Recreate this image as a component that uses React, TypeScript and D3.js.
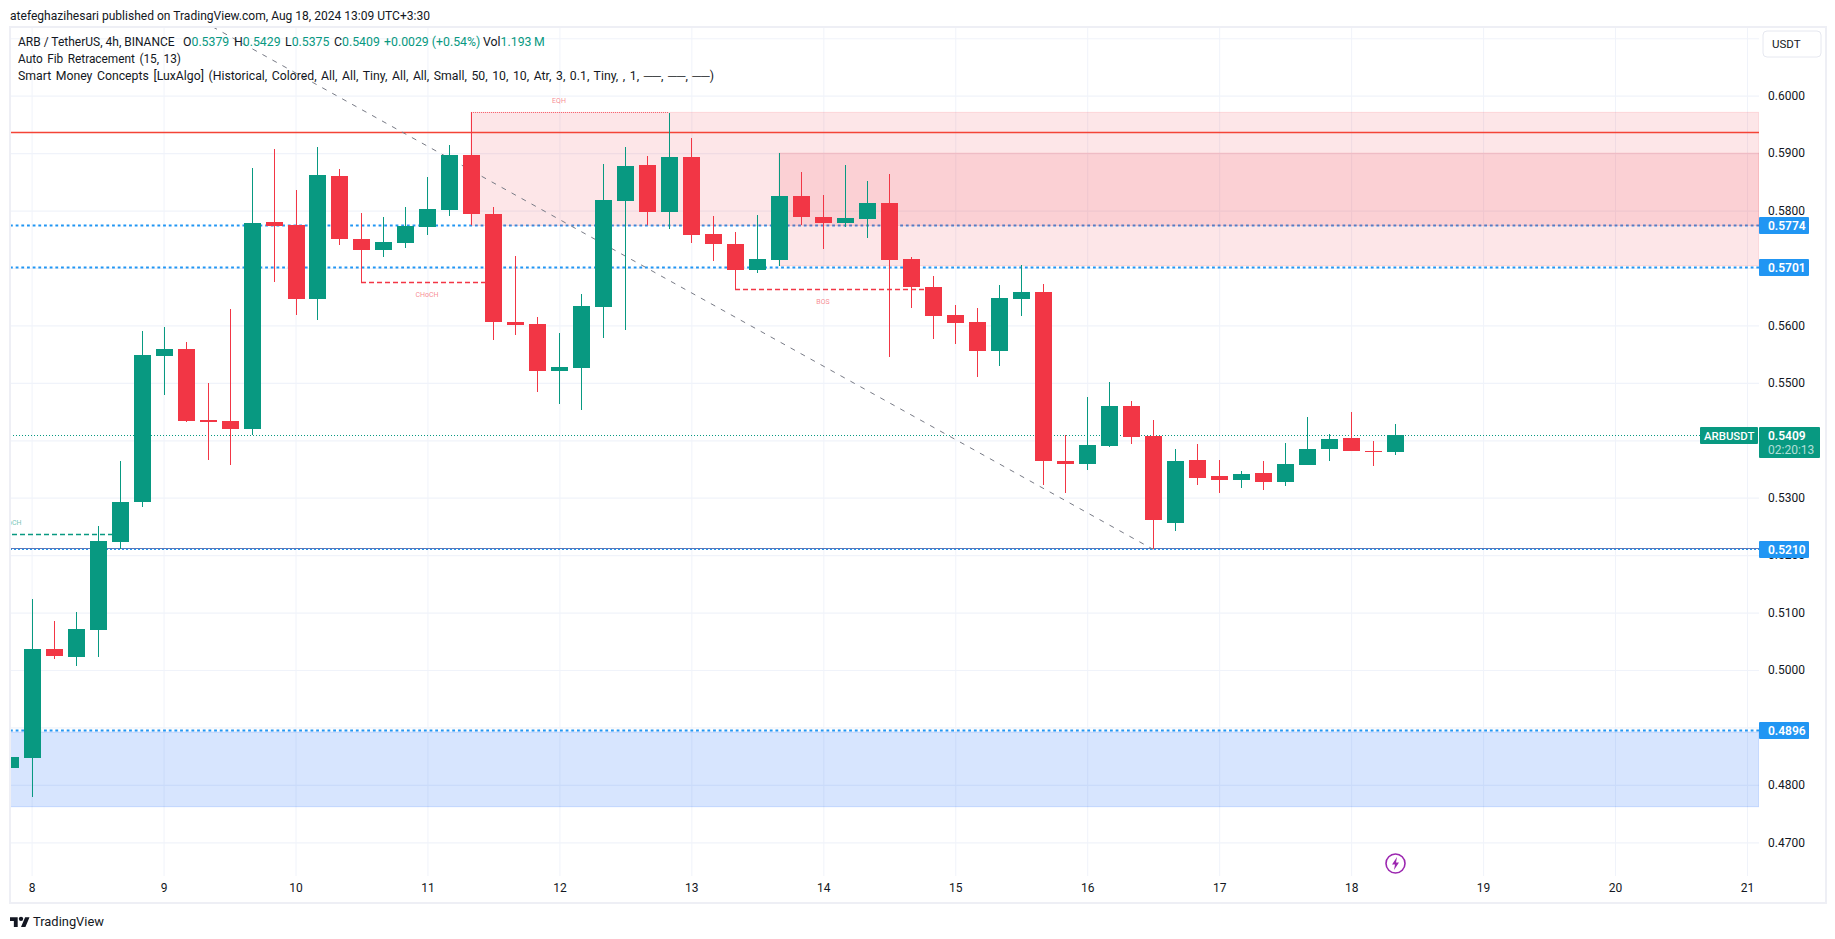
import React, { useEffect, useRef } from 'react';
import * as d3 from 'd3';

const WIDTH = 1835;
const HEIGHT = 939;
const FONT = 'Roboto, sans-serif';
const UP = '#089981';
const DOWN = '#f23645';
const BLUE = '#2196f3';
const TEXT = '#131722';
const GRID = '#f0f3fa';
const FRAME = '#eeeff5';

// 4h candles, the first one opens Aug 7 20:00
const firstCandle = Date.UTC(2024, 7, 7, 20);
const fourHours = 4 * 3600 * 1000;

const opens = [
  0.4829, 0.4847, 0.5037, 0.5023, 0.507, 0.5223, 0.5293, 0.5547, 0.5559, 0.5435, 0.5434, 0.542, 0.578,
  0.5775, 0.5646, 0.586, 0.575, 0.5731, 0.5744, 0.5771, 0.5801, 0.5897, 0.5794, 0.5606, 0.5603, 0.5521,
  0.5526, 0.5632, 0.5817, 0.5879, 0.5797, 0.5893, 0.5759, 0.5742, 0.5697, 0.5714, 0.5825, 0.5789, 0.5778,
  0.5785, 0.5813, 0.5716, 0.5667, 0.5618, 0.5606, 0.5555, 0.5646, 0.5658, 0.5364, 0.5359, 0.539, 0.546,
  0.5407, 0.5256, 0.5366, 0.5338, 0.5331, 0.5343, 0.5327, 0.5357, 0.5385, 0.5404, 0.5381, 0.5379,
];
const highs = [
  0.4849, 0.5124, 0.5085, 0.5101, 0.5251, 0.5364, 0.559, 0.5597, 0.5571, 0.55, 0.5629, 0.5874, 0.5907,
  0.5836, 0.5911, 0.5872, 0.5796, 0.5789, 0.5806, 0.5858, 0.5914, 0.5971, 0.5806, 0.5721, 0.5615, 0.5587,
  0.5655, 0.5881, 0.5911, 0.5895, 0.597, 0.5926, 0.5791, 0.5763, 0.5792, 0.59, 0.5867, 0.5827, 0.5879,
  0.5851, 0.5864, 0.5719, 0.5686, 0.5636, 0.563, 0.567, 0.5705, 0.5672, 0.5409, 0.5475, 0.5501, 0.5469,
  0.5435, 0.5385, 0.5394, 0.5366, 0.5347, 0.5364, 0.5395, 0.5441, 0.5411, 0.5449, 0.5399, 0.5429,
];
const lows = [
  0.4829, 0.4779, 0.5019, 0.5007, 0.5023, 0.5211, 0.5284, 0.5479, 0.5432, 0.5366, 0.5357, 0.5409, 0.5676,
  0.5618, 0.5609, 0.574, 0.5676, 0.5719, 0.5735, 0.5757, 0.5791, 0.5775, 0.5575, 0.5583, 0.5484, 0.5463,
  0.5453, 0.5578, 0.5592, 0.5775, 0.5768, 0.5744, 0.5712, 0.5663, 0.5691, 0.5704, 0.5775, 0.5733, 0.5771,
  0.5752, 0.5545, 0.563, 0.5576, 0.5568, 0.551, 0.5529, 0.5616, 0.5322, 0.5308, 0.5348, 0.5388, 0.5394,
  0.521, 0.5242, 0.5322, 0.5308, 0.5317, 0.5313, 0.532, 0.5357, 0.5364, 0.5381, 0.5355, 0.5375,
];
const closes = [
  0.4849, 0.5037, 0.5024, 0.5071, 0.5225, 0.5293, 0.5548, 0.5559, 0.5434, 0.5432, 0.542, 0.5778, 0.5773,
  0.5646, 0.5862, 0.575, 0.5731, 0.5745, 0.5773, 0.5803, 0.5897, 0.5794, 0.5606, 0.5601, 0.5521, 0.5528,
  0.5634, 0.5818, 0.5878, 0.5797, 0.5893, 0.5757, 0.5742, 0.5697, 0.5716, 0.5825, 0.5789, 0.5778, 0.5787,
  0.5813, 0.5714, 0.5667, 0.5616, 0.5604, 0.5555, 0.5648, 0.5658, 0.5364, 0.5359, 0.5392, 0.546, 0.5406,
  0.5261, 0.5364, 0.5334, 0.5331, 0.5341, 0.5327, 0.5359, 0.5385, 0.5402, 0.5381, 0.538, 0.5409,
];

const dayTicks = [8, 9, 10, 11, 12, 13, 14, 15, 16, 17, 18, 19, 20, 21];
const priceTicks = [0.61, 0.6, 0.59, 0.58, 0.57, 0.56, 0.55, 0.54, 0.53, 0.52, 0.51, 0.5, 0.49, 0.48, 0.47];
const axisLabels = [0.6, 0.59, 0.58, 0.56, 0.55, 0.53, 0.52, 0.51, 0.5, 0.48, 0.47];
const priceBoxes = [0.5774, 0.5701, 0.521, 0.4896];
const thickDotted = [0.5774, 0.5701, 0.4896];
const lastPrice = 0.5409;
const redLevel = 0.5936;
const fibLow = 0.521;

const outerZone = [0.5971, 0.5774];
const innerZone = [0.59, 0.5704];
const blueZone = [0.4892, 0.4762];

const headerText = 'atefeghazihesari published on TradingView.com, Aug 18, 2024 13:09 UTC+3:30';
const legendLines = [
  { text: 'Auto Fib Retracement (15, 13)', width: 163 },
  {
    text: 'Smart Money Concepts [LuxAlgo] (Historical, Colored, All, All, Tiny, All, All, Small, 50, 10, 10, Atr, 3, 0.1, Tiny, , 1, ──, ──, ──)',
    width: 696,
  },
];

const candleTime = (i: number) => new Date(firstCandle + i * fourHours);

const App: React.FC = () => {
  const svgRef = useRef<SVGSVGElement | null>(null);

  useEffect(() => {
    if (!svgRef.current) return;
    document.body.style.margin = '0';

    const plot = { left: 10, right: 1759, top: 28, bottom: 876 };

    const x = d3
      .scaleUtc()
      .domain([new Date(Date.UTC(2024, 7, 8)), new Date(Date.UTC(2024, 7, 21))])
      .range([31.6, 1747]);
    const y = d3.scaleLinear().domain([0.6, 0.47]).range([95.7, 842.3]);
    const cx = (i: number) => Math.round(x(candleTime(i)));

    const svg = d3.select(svgRef.current);
    svg.selectAll('*').remove();
    svg
      .append('defs')
      .append('clipPath')
      .attr('id', 'plot-clip')
      .append('rect')
      .attr('x', plot.left)
      .attr('y', plot.top)
      .attr('width', plot.right - plot.left)
      .attr('height', plot.bottom - plot.top);

    svg.append('rect').attr('width', WIDTH).attr('height', HEIGHT).attr('fill', '#fff');

    // header above the frame
    svg
      .append('text')
      .attr('x', 10)
      .attr('y', 20)
      .attr('font-family', FONT)
      .attr('font-size', 13)
      .attr('textLength', 420)
      .attr('lengthAdjust', 'spacingAndGlyphs')
      .attr('fill', TEXT)
      .text(headerText);

    // grid, through the axes
    const dayDates = dayTicks.map((d) => new Date(Date.UTC(2024, 7, d)));
    const xGrid = svg
      .append('g')
      .attr('transform', `translate(0,${plot.bottom})`)
      .call(
        d3
          .axisBottom(x)
          .tickValues(dayDates)
          .tickSize(-(plot.bottom - plot.top))
          .tickFormat(() => ''),
      );
    xGrid.select('.domain').remove();
    xGrid.selectAll('line').attr('stroke', GRID);

    const yGrid = svg
      .append('g')
      .attr('transform', `translate(${plot.left},0)`)
      .call(
        d3
          .axisRight(y)
          .tickValues(priceTicks)
          .tickSize(plot.right - plot.left)
          .tickFormat(() => ''),
      );
    yGrid.select('.domain').remove();
    yGrid.selectAll('line').attr('stroke', GRID).attr('stroke-width', 1.2);

    const chart = svg.append('g').attr('clip-path', 'url(#plot-clip)');

    // horizontal levels
    const hLine = (price: number, color: string, width: number, dash?: string, x0 = plot.left, x1 = plot.right) =>
      chart
        .append('line')
        .attr('x1', x0)
        .attr('x2', x1)
        .attr('y1', Math.round(y(price)) + 0.5)
        .attr('y2', Math.round(y(price)) + 0.5)
        .attr('stroke', color)
        .attr('stroke-width', width)
        .attr('stroke-dasharray', dash ?? null);

    thickDotted.forEach((p) => hLine(p, BLUE, 2, '2.8 2.87'));

    // order block zones, array index = candle index
    const zoneStart = cx(21);
    const innerStart = cx(35);
    chart
      .append('rect')
      .attr('x', zoneStart)
      .attr('y', y(outerZone[0]))
      .attr('width', plot.right - zoneStart)
      .attr('height', y(outerZone[1]) - y(outerZone[0]))
      .attr('fill', DOWN)
      .attr('fill-opacity', 0.125)
      .attr('stroke', DOWN)
      .attr('stroke-opacity', 0.14);
    chart
      .append('rect')
      .attr('x', innerStart)
      .attr('y', y(innerZone[0]))
      .attr('width', plot.right - innerStart)
      .attr('height', y(innerZone[1]) - y(innerZone[0]))
      .attr('fill', DOWN)
      .attr('fill-opacity', 0.125)
      .attr('stroke', DOWN)
      .attr('stroke-opacity', 0.14);
    chart
      .append('rect')
      .attr('x', plot.left)
      .attr('y', y(blueZone[0]))
      .attr('width', plot.right - plot.left)
      .attr('height', y(blueZone[1]) - y(blueZone[0]))
      .attr('fill', '#216efa')
      .attr('fill-opacity', 0.18)
      .attr('stroke', '#216efa')
      .attr('stroke-opacity', 0.2);

    hLine(redLevel, '#f44336', 1.3);
    hLine(lastPrice, UP, 1, '1 2', plot.left, 1700);
    chart
      .append('line')
      .attr('x1', plot.left)
      .attr('x2', plot.right)
      .attr('y1', Math.round(y(fibLow)) - 0.5)
      .attr('y2', Math.round(y(fibLow)) - 0.5)
      .attr('stroke', '#5b78b8')
      .attr('stroke-width', 1);
    hLine(fibLow, BLUE, 1, '2 2');

    // structure labels sit over the middle bar of their span
    const structure = [
      { from: 16, to: 22, price: 0.5676, label: 'CHoCH', color: DOWN, below: true },
      { from: 33, to: 42, price: 0.5663, label: 'BOS', color: DOWN, below: true },
      { from: -5, to: 5, price: 0.5236, label: 'CHoCH', color: UP, below: false },
    ];
    structure.forEach((s) => {
      hLine(s.price, s.color, 1.5, '5 3', cx(s.from), cx(s.to));
      chart
        .append('text')
        .attr('x', cx(Math.floor((s.from + s.to) / 2)))
        .attr('y', y(s.price) + (s.below ? 15 : -9))
        .attr('text-anchor', 'middle')
        .attr('font-family', FONT)
        .attr('font-size', 7)
        .attr('fill', s.color)
        .attr('fill-opacity', 0.6)
        .text(s.label);
    });

    // equal highs
    hLine(highs[21], DOWN, 1, '1 1', cx(21), cx(30)).attr('stroke-opacity', 0.7);
    chart
      .append('text')
      .attr('x', cx(25))
      .attr('y', y(highs[21]) - 9)
      .attr('text-anchor', 'middle')
      .attr('font-family', FONT)
      .attr('font-size', 7)
      .attr('fill', DOWN)
      .attr('fill-opacity', 0.6)
      .text('EQH');

    // auto fib trend line, from off the top of the pane down to the swing low
    const trendTimes = [8.23, 51];
    const trendPrices = [0.612, 0.521];
    const trend = d3
      .line<number>()
      .x((d) => x(candleTime(d + 1)))
      .y((_, i) => y(trendPrices[i]));
    chart
      .append('path')
      .attr('d', trend(trendTimes))
      .attr('fill', 'none')
      .attr('stroke', '#787b86')
      .attr('stroke-width', 1)
      .attr('stroke-dasharray', '5 6.4');

    // candles, index 0 is the first bar
    const candles = d3.range(opens.length);
    const color = (i: number) => (closes[i] >= opens[i] ? UP : DOWN);
    chart
      .selectAll('.wick')
      .data(candles)
      .enter()
      .append('rect')
      .attr('class', 'wick')
      .attr('x', (i) => cx(i))
      .attr('y', (i) => Math.round(y(highs[i])))
      .attr('width', 1)
      .attr('height', (i) => Math.round(y(lows[i])) - Math.round(y(highs[i])))
      .attr('fill', color);
    chart
      .selectAll('.body')
      .data(candles)
      .enter()
      .append('rect')
      .attr('class', 'body')
      .attr('x', (i) => cx(i) - 8)
      .attr('y', (i) => Math.round(y(Math.max(opens[i], closes[i]))))
      .attr('width', 17)
      .attr('height', (i) =>
        Math.max(1, Math.round(y(Math.min(opens[i], closes[i]))) - Math.round(y(Math.max(opens[i], closes[i])))),
      )
      .attr('fill', color);

    // legend
    const last = opens.length - 1;
    const fmt = d3.format('.4f');
    const legend = svg
      .append('text')
      .attr('y', 46)
      .attr('font-family', FONT)
      .attr('font-size', 12.3)
      .attr('fill', TEXT);
    legend.append('tspan').attr('x', 18).attr('font-size', 12).text('ARB / TetherUS, 4h, BINANCE');
    const ohlc: [string, number, number][] = [
      ['O', opens[last], 183],
      ['H', highs[last], 234],
      ['L', lows[last], 285],
      ['C', closes[last], 334],
    ];
    ohlc.forEach(([k, v, lx]) => {
      legend.append('tspan').attr('x', lx).text(k);
      legend.append('tspan').attr('fill', UP).text(fmt(v));
    });
    legend.append('tspan').attr('x', 384).attr('fill', UP).text('+0.0029 (+0.54%)');
    legend.append('tspan').attr('x', 483).text('Vol');
    legend.append('tspan').attr('fill', UP).text('1.193\u2009M');
    legendLines.forEach((l, i) => {
      svg
        .append('text')
        .attr('x', 18)
        .attr('y', 63 + i * 17)
        .attr('font-family', FONT)
        .attr('font-size', 12)
        .attr('word-spacing', 1.5)
        .attr('textLength', l.width)
        .attr('lengthAdjust', 'spacingAndGlyphs')
        .attr('fill', TEXT)
        .text(l.text);
    });

    // frame
    svg
      .append('rect')
      .attr('x', 10)
      .attr('y', 27)
      .attr('width', 1816)
      .attr('height', 876)
      .attr('fill', 'none')
      .attr('stroke', FRAME)
      .attr('stroke-width', 2);

    // time axis labels
    const timeAxis = svg
      .append('g')
      .attr('transform', `translate(0,${plot.bottom})`)
      .call(
        d3
          .axisBottom(x)
          .tickValues(dayDates)
          .tickSize(0)
          .tickPadding(7)
          .tickFormat((d) => String((d as Date).getUTCDate())),
      );
    timeAxis.select('.domain').remove();
    timeAxis.selectAll('text').attr('font-family', FONT).attr('font-size', 12).attr('fill', TEXT);

    // price axis labels
    const priceAxis = svg
      .append('g')
      .attr('transform', `translate(${plot.right},0)`)
      .call(
        d3
          .axisRight(y)
          .tickValues(axisLabels)
          .tickSize(0)
          .tickPadding(9)
          .tickFormat((d) => fmt(d as number)),
      );
    priceAxis.select('.domain').remove();
    priceAxis.selectAll('text').attr('font-family', FONT).attr('font-size', 12).attr('fill', TEXT);

    // USDT button
    svg
      .append('rect')
      .attr('x', 1763)
      .attr('y', 31)
      .attr('width', 58)
      .attr('height', 26)
      .attr('rx', 4)
      .attr('fill', '#fff')
      .attr('stroke', '#e6e8f0');
    svg
      .append('text')
      .attr('x', 1772)
      .attr('y', 48)
      .attr('font-family', FONT)
      .attr('font-size', 11.5)
      .attr('fill', TEXT)
      .text('USDT');

    // level boxes
    priceBoxes.forEach((p) => {
      const py = Math.round(y(p));
      svg
        .append('rect')
        .attr('x', plot.right)
        .attr('y', py - 8)
        .attr('width', 50)
        .attr('height', 17)
        .attr('rx', 1)
        .attr('fill', BLUE);
      svg
        .append('text')
        .attr('x', 1768)
        .attr('y', py + 5)
        .attr('font-family', FONT)
        .attr('font-size', 12)
        .attr('font-weight', 600)
        .attr('fill', '#fff')
        .text(fmt(p));
    });

    // last price tag
    const ly = Math.round(y(lastPrice));
    svg
      .append('rect')
      .attr('x', plot.right)
      .attr('y', ly - 8)
      .attr('width', 61)
      .attr('height', 31)
      .attr('rx', 1)
      .attr('fill', UP);
    svg
      .append('text')
      .attr('x', 1768)
      .attr('y', ly + 5)
      .attr('font-family', FONT)
      .attr('font-size', 12)
      .attr('font-weight', 600)
      .attr('fill', '#fff')
      .text(fmt(lastPrice));
    svg
      .append('text')
      .attr('x', 1768)
      .attr('y', ly + 19)
      .attr('font-family', FONT)
      .attr('font-size', 12)
      .attr('fill', '#fff')
      .attr('fill-opacity', 0.7)
      .text('02:20:13');
    svg
      .append('rect')
      .attr('x', 1700)
      .attr('y', ly - 8)
      .attr('width', 58)
      .attr('height', 17)
      .attr('rx', 1)
      .attr('fill', UP);
    svg
      .append('text')
      .attr('x', 1704)
      .attr('y', ly + 5)
      .attr('font-family', FONT)
      .attr('font-size', 11.4)
      .attr('font-weight', 500)
      .attr('fill', '#fff')
      .text('ARBUSDT');

    // lightning marker under the last bar
    const marker = svg.append('g').attr('transform', `translate(${cx(last) + 0.5},863.5)`);
    marker.append('circle').attr('r', 9.5).attr('fill', '#fff').attr('stroke', '#9c27b0').attr('stroke-width', 1.6);
    marker.append('path').attr('d', 'M1.5 -6.5 L-3.5 1 L-0.5 1 L-1.5 6.5 L3.5 -1 L0.5 -1 Z').attr('fill', '#9c27b0');

    // TradingView logo
    const logo = svg.append('g').attr('transform', 'translate(10,915) scale(0.55)').attr('fill', TEXT);
    logo.append('path').attr('d', 'M14 22H7V11H0V4h14v18zM28 22h-8l7.5-18h8L28 22z');
    logo.append('circle').attr('cx', 20).attr('cy', 7).attr('r', 4);
    svg
      .append('text')
      .attr('x', 33)
      .attr('y', 926)
      .attr('font-family', FONT)
      .attr('font-size', 13)
      .attr('textLength', 71)
      .attr('lengthAdjust', 'spacingAndGlyphs')
      .attr('fill', TEXT)
      .text('TradingView');
  }, []);

  return (
    <svg ref={svgRef} width={WIDTH} height={HEIGHT} style={{ position: 'absolute', left: 0, top: 0 }}></svg>
  );
};

export default App;
